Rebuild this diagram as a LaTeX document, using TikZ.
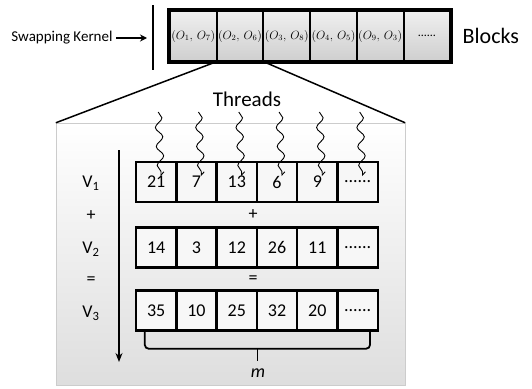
\documentclass[tikz,border=0pt]{standalone}
\usepackage{fontspec}
\setmainfont{Carlito}
\usetikzlibrary{positioning,calc,decorations.pathmorphing,arrows.meta}

\newcommand{\celldots}{......}

\tikzset{
  blockcell/.style={draw=black,line width=2pt,top color=gray!12,bottom color=gray!38,
    minimum width=46.7pt,minimum height=50pt,inner sep=0pt,font=\fontsize{12}{14}\selectfont},
  vcell/.style={draw=black,line width=2.5pt,fill=gray!6,minimum width=40.3pt,
    minimum height=40pt,inner sep=0pt,font=\fontsize{18}{20}\selectfont},
  vlabel/.style={font=\fontsize{18}{20}\selectfont},
  thread/.style={decorate,decoration={snake,amplitude=3.5pt,segment length=19pt,post length=4pt}},
}

\begin{document}
\begin{tikzpicture}[x=1pt,y=-1pt]
    \useasboundingbox (0,0) rectangle (532,388);

    % zoomed panel
    \node (panel) [draw=gray!40,top color=white,bottom color=gray!26,
      minimum width=349pt,minimum height=262pt] at (230.5,254) {};

    % swapping kernel and blocks
    \node (sk) [font=\fontsize{15}{17}\selectfont] at (62,38) {Swapping Kernel};
    \coordinate (skend) at (147,38);
    \draw [-{Stealth[length=7pt,width=7pt]},line width=1.5pt] (sk.east) -- (skend);
    \draw [line width=1.5pt] (153,5) -- (153,70);

    \foreach \lbl [count=\i] in {{$(O_1,\,O_7)$},{$(O_2,\,O_6)$},{$(O_3,\,O_8)$},{$(O_4,\,O_5)$},{$(O_9,\,O_3)$},\celldots}
        \node (b\i) [blockcell] at (170+46.7*\i-23.35,36) {\lbl};
    \draw [line width=4.5pt] (b1.north west) rectangle (b6.south east);
    \node (blocks) [font=\fontsize{22}{24}\selectfont,right=8pt of b6] {Blocks};

    \draw [line width=1.5pt] (b2.south west) -- (panel.north west);
    \draw [line width=1.5pt] (b2.south east) -- (panel.north east);

    \node (threads) [font=\fontsize{21}{23}\selectfont] at (247,99) {Threads};

    % vectors
    \foreach \a/\b/\c [count=\i] in {21/14/35,7/3/10,13/12/25,6/26/32,9/11/20,\celldots/\celldots/\celldots} {
        \node (ra\i) [vcell] at (136+40.3*\i-20.15,182) {\a};
        \node (rb\i) [vcell] at (136+40.3*\i-20.15,247.5) {\b};
        \node (rc\i) [vcell] at (136+40.3*\i-20.15,310.5) {\c};
    }

    \foreach \i in {1,...,6} {
        \coordinate (t\i) at ($(ra\i.center)+(2,-70)$);
        \draw [thread,-{Straight Barb[left,length=3pt]},line width=0.9pt] (t\i) -- ($(ra\i.center)+(5,-6)$);
    }

    \node (v1) [vlabel] at (91,183) {V\textsubscript{1}};
    \node (pl) [vlabel] at (91,216) {+};
    \node (v2) [vlabel] at (91,249) {V\textsubscript{2}};
    \node (eq) [vlabel] at (91,281) {=};
    \node (v3) [vlabel] at (91,313) {V\textsubscript{3}};
    \node (pl2) [vlabel] at (253,215) {+};
    \node (eq2) [vlabel] at (253,280) {=};

    \coordinate (dtop) at (119,150);
    \coordinate (dbot) at (119,362);
    \draw [-{Stealth[length=9pt,width=7pt]},line width=1.3pt] (dtop) -- (dbot);

    % bracket under V3
    \coordinate (brl) at ($(rc1.south west)+(10,0)$);
    \coordinate (brr) at ($(rc6.south east)+(-9,0)$);
    \coordinate (brm) at ($(brl)!0.5!(brr)+(0,17)$);
    \draw [line width=1.8pt,rounded corners=4pt] (brl) -- ++(0,17) -- ($(brr)+(0,17)$) -- (brr);
    \draw [line width=1.8pt] (brm) -- ++(0,12);
    \node (m) [vlabel,font=\fontsize{18}{20}\selectfont\itshape] at (258,373) {m};
\end{tikzpicture}
\end{document}
